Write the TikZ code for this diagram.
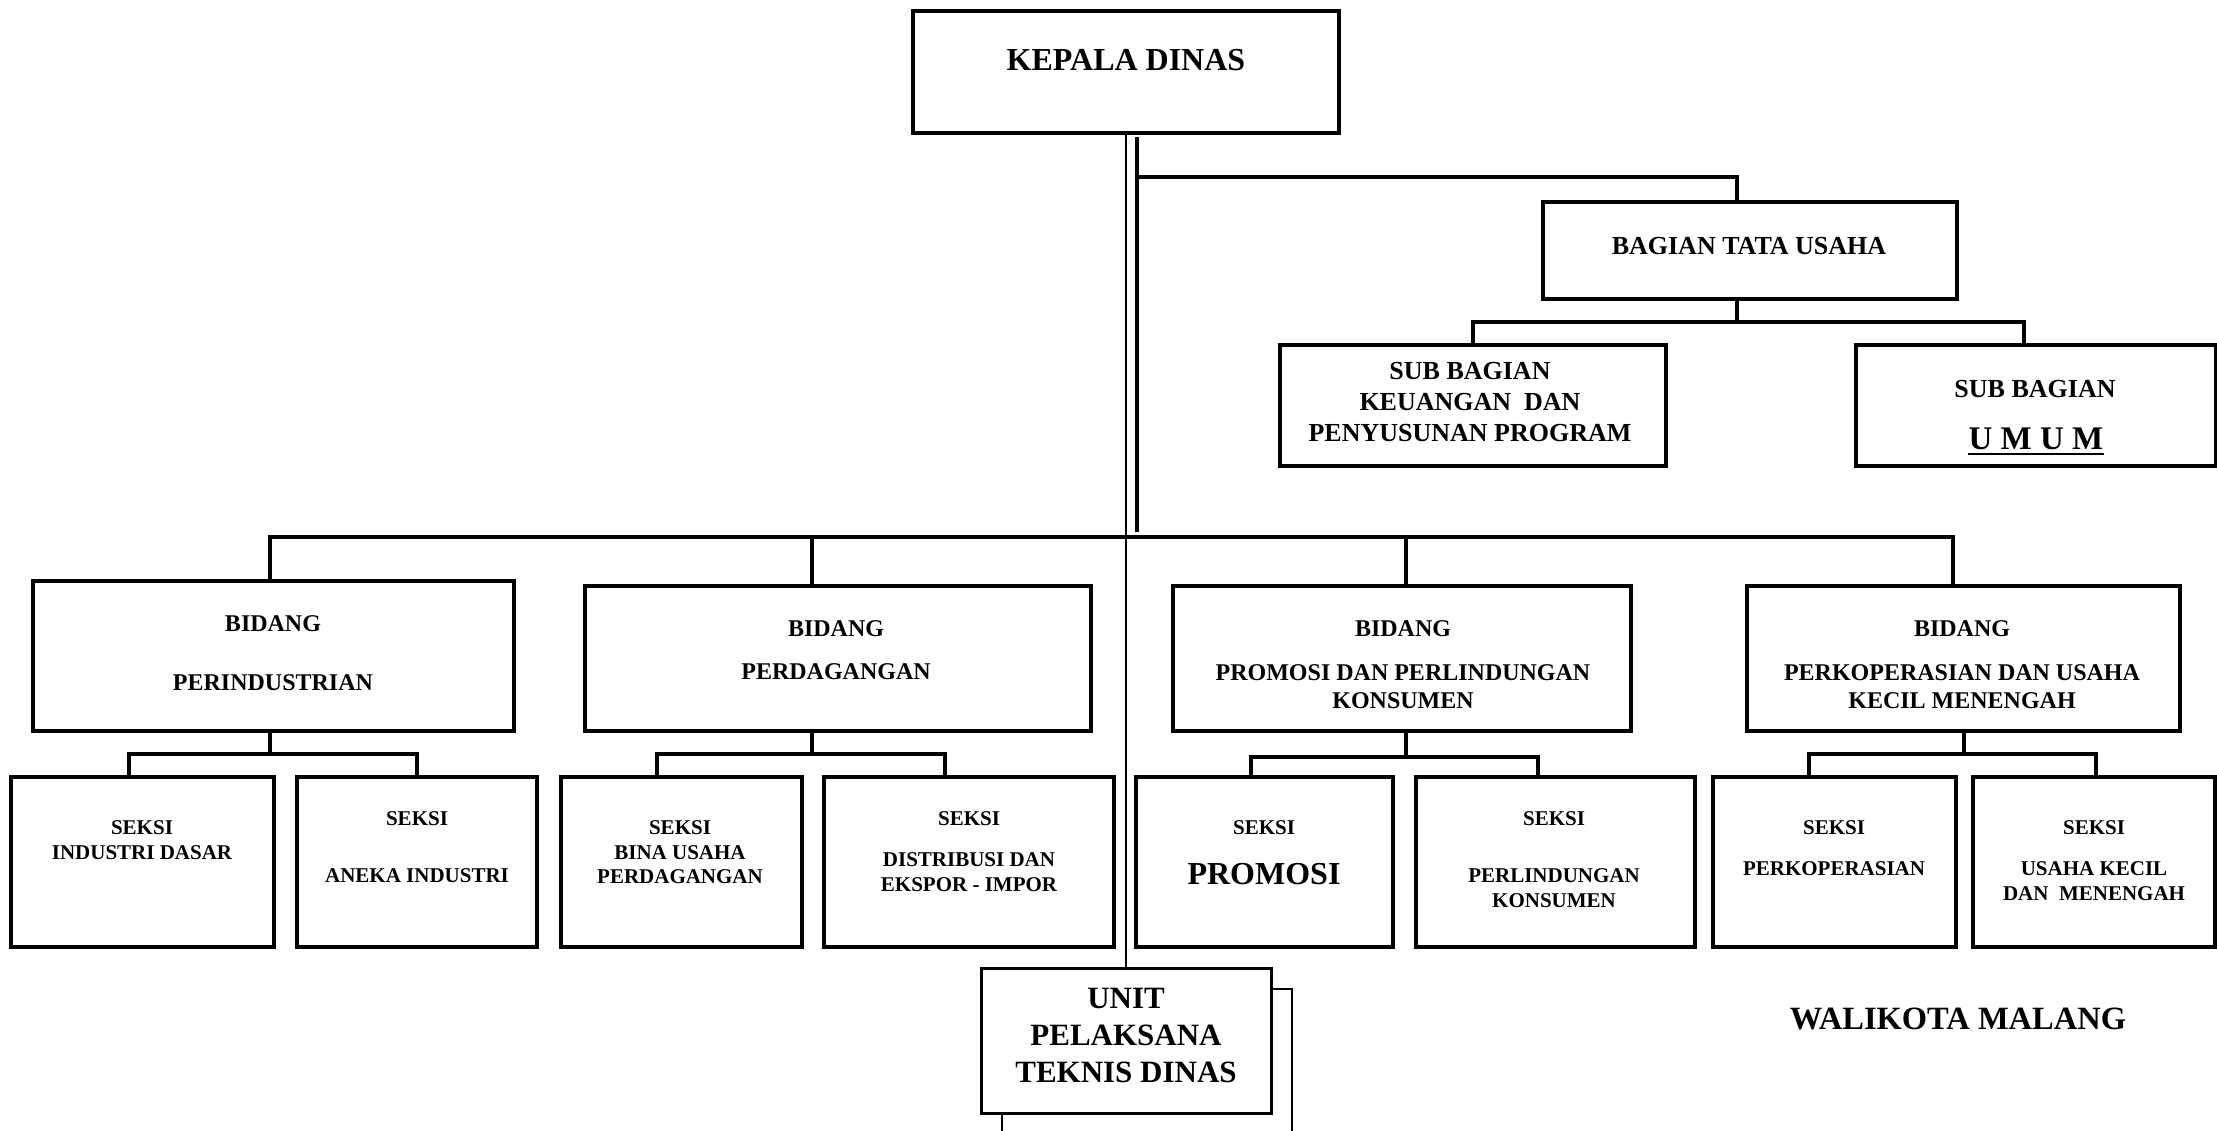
\documentclass[tikz,border=0pt]{standalone}
\usepackage{fontspec}
\setmainfont{Liberation Serif}
\usetikzlibrary{fit}
\newcommand{\myfs}[1]{\fontsize{#1}{#1}\selectfont\bfseries}
\tikzset{
  box/.style={draw, line width=3.5pt, inner sep=0pt},
  conn/.style={line width=3.5pt},
  thinconn/.style={line width=1.8pt},
  lbl/.style={anchor=base, inner sep=0pt},
}
\begin{document}
\begin{tikzpicture}[x=1pt,y=-1pt]
\fill[white] (0,0) rectangle (2217,1130);
\useasboundingbox (0,0) rectangle (2217,1130);

% ---------- boxes ----------
\node[box, fit={(913,11) (1339,133)}] (kd) {};
\node[box, fit={(1543,202) (1957,299)}] (tu) {};
\node[box, fit={(1280,345) (1666,466)}] (sb1) {};
\node[box, fit={(1856,345) (2216,466)}] (sb2) {};

\node[box, fit={(33,581) (514,731)}] (b1) {};
\node[box, fit={(585,586) (1091,731)}] (b2) {};
\node[box, fit={(1173,586) (1631,731)}] (b3) {};
\node[box, fit={(1747,586) (2180,731)}] (b4) {};

\node[box, fit={(11,777) (274,947)}] (s11) {};
\node[box, fit={(297,777) (537,947)}] (s12) {};
\node[box, fit={(561,777) (802,947)}] (s21) {};
\node[box, fit={(824,777) (1114,947)}] (s22) {};
\node[box, fit={(1136,777) (1393,947)}] (s31) {};
\node[box, fit={(1416,777) (1695,947)}] (s32) {};
\node[box, fit={(1713,777) (1956,947)}] (s41) {};
\node[box, fit={(1973,777) (2215,947)}] (s42) {};

\node[draw, line width=2.5pt, inner sep=0pt, fit={(1002,989) (1292,1134)}] (uptS) {};
\node[box, line width=3pt, fill=white, fit={(981,968) (1271,1113)}] (upt) {};

% ---------- connectors ----------
\coordinate (tk1) at (1137,137);
\coordinate (tk2) at (1137,532);
\coordinate (tb) at (1137,177);
\coordinate (tuJ) at (1737,177);
\coordinate (tuS) at (1737,322);
\coordinate (sbL) at (1473,322);
\coordinate (sbR) at (2024,322);

\draw[thinconn] (kd.south) -- (upt.north);
\draw[conn] (tk1) -- (tk2);
\draw[conn] (tb) -- (tuJ) -- (tuJ |- tu.north);
\draw[conn] (tuS |- tu.south) -- (tuS);
\draw[conn] (sbL |- sb1.north) -- (sbL) -- (sbR) -- (sbR |- sb2.north);

\coordinate (j1) at (270,537);
\coordinate (j2) at (812,537);
\coordinate (j3) at (1406,537);
\coordinate (j4) at (1953,537);
\draw[conn] (j1 |- b1.north) -- (j1) -- (j4) -- (j4 |- b4.north);
\draw[conn] (j2) -- (j2 |- b2.north);
\draw[conn] (j3) -- (j3 |- b3.north);

\coordinate (h1) at (270,754);  \coordinate (l1) at (129,754);  \coordinate (r1) at (417,754);
\coordinate (h2) at (812,754);  \coordinate (l2) at (657,754);  \coordinate (r2) at (945,754);
\coordinate (h3) at (1406,757); \coordinate (l3) at (1251,757); \coordinate (r3) at (1538,757);
\coordinate (h4) at (1964,754); \coordinate (l4) at (1809,754); \coordinate (r4) at (2096,754);
\draw[conn] (h1 |- b1.south) -- (h1);
\draw[conn] (l1 |- s11.north) -- (l1) -- (r1) -- (r1 |- s12.north);
\draw[conn] (h2 |- b2.south) -- (h2);
\draw[conn] (l2 |- s21.north) -- (l2) -- (r2) -- (r2 |- s22.north);
\draw[conn] (h3 |- b3.south) -- (h3);
\draw[conn] (l3 |- s31.north) -- (l3) -- (r3) -- (r3 |- s32.north);
\draw[conn] (h4 |- b4.south) -- (h4);
\draw[conn] (l4 |- s41.north) -- (l4) -- (r4) -- (r4 |- s42.north);

% ---------- texts ----------
\node[lbl, font=\myfs{32}] (kdT) at (1126,70) {KEPALA DINAS};
\node[lbl, font=\myfs{26}] (tuT) at (1749,254) {BAGIAN TATA USAHA};
\node[lbl, font=\myfs{26}] (sb1a) at (1470,379) {SUB BAGIAN};
\node[lbl, font=\myfs{26}] (sb1b) at (1470,410) {KEUANGAN\ \ DAN};
\node[lbl, font=\myfs{26}] (sb1c) at (1470,441) {PENYUSUNAN PROGRAM};
\node[lbl, font=\myfs{26}] (sb2a) at (2035,397) {SUB BAGIAN};
\node[lbl, font=\myfs{33}] (sb2b) at (2036,449) {U M U M};
\draw[line width=2pt] (sb2b.base west) ++(0,5) -- ([yshift=-5pt]sb2b.base east);

\node[lbl, font=\myfs{24}] (b1a) at (273,631) {BIDANG};
\node[lbl, font=\myfs{24}] (b1b) at (273,690) {PERINDUSTRIAN};
\node[lbl, font=\myfs{24}] (b2a) at (836,636) {BIDANG};
\node[lbl, font=\myfs{24}] (b2b) at (836,679) {PERDAGANGAN};
\node[lbl, font=\myfs{24}] (b3a) at (1403,636) {BIDANG};
\node[lbl, font=\myfs{24}] (b3b) at (1403,680) {PROMOSI DAN PERLINDUNGAN};
\node[lbl, font=\myfs{24}] (b3c) at (1403,708) {KONSUMEN};
\node[lbl, font=\myfs{24}] (b4a) at (1962,636) {BIDANG};
\node[lbl, font=\myfs{24}] (b4b) at (1962,680) {PERKOPERASIAN DAN USAHA};
\node[lbl, font=\myfs{24}] (b4c) at (1962,708) {KECIL MENENGAH};

\node[lbl, font=\myfs{21}] (s11a) at (142,834) {SEKSI};
\node[lbl, font=\myfs{21}] (s11b) at (142,859) {INDUSTRI DASAR};
\node[lbl, font=\myfs{21}] (s12a) at (417,825) {SEKSI};
\node[lbl, font=\myfs{21}] (s12b) at (417,882) {ANEKA INDUSTRI};
\node[lbl, font=\myfs{21}] (s21a) at (680,834) {SEKSI};
\node[lbl, font=\myfs{21}] (s21b) at (680,859) {BINA USAHA};
\node[lbl, font=\myfs{21}] (s21c) at (680,883) {PERDAGANGAN};
\node[lbl, font=\myfs{21}] (s22a) at (969,825) {SEKSI};
\node[lbl, font=\myfs{21}] (s22b) at (969,866) {DISTRIBUSI DAN};
\node[lbl, font=\myfs{21}] (s22c) at (969,891) {EKSPOR - IMPOR};
\node[lbl, font=\myfs{21}] (s31a) at (1264,834) {SEKSI};
\node[lbl, font=\myfs{32}] (s31b) at (1264,884) {PROMOSI};
\node[lbl, font=\myfs{21}] (s32a) at (1554,825) {SEKSI};
\node[lbl, font=\myfs{21}] (s32b) at (1554,882) {PERLINDUNGAN};
\node[lbl, font=\myfs{21}] (s32c) at (1554,907) {KONSUMEN};
\node[lbl, font=\myfs{21}] (s41a) at (1834,834) {SEKSI};
\node[lbl, font=\myfs{21}] (s41b) at (1834,875) {PERKOPERASIAN};
\node[lbl, font=\myfs{21}] (s42a) at (2094,834) {SEKSI};
\node[lbl, font=\myfs{21}] (s42b) at (2094,875) {USAHA KECIL};
\node[lbl, font=\myfs{21}] (s42c) at (2094,900) {DAN\ \ MENENGAH};

\node[lbl, font=\myfs{31}] (uptA) at (1126,1008) {UNIT};
\node[lbl, font=\myfs{31}] (uptB) at (1126,1045) {PELAKSANA};
\node[lbl, font=\myfs{31}] (uptC) at (1126,1082) {TEKNIS DINAS};

\node[lbl, font=\myfs{32.5}] (wali) at (1958,1029) {WALIKOTA MALANG};
\end{tikzpicture}
\end{document}
